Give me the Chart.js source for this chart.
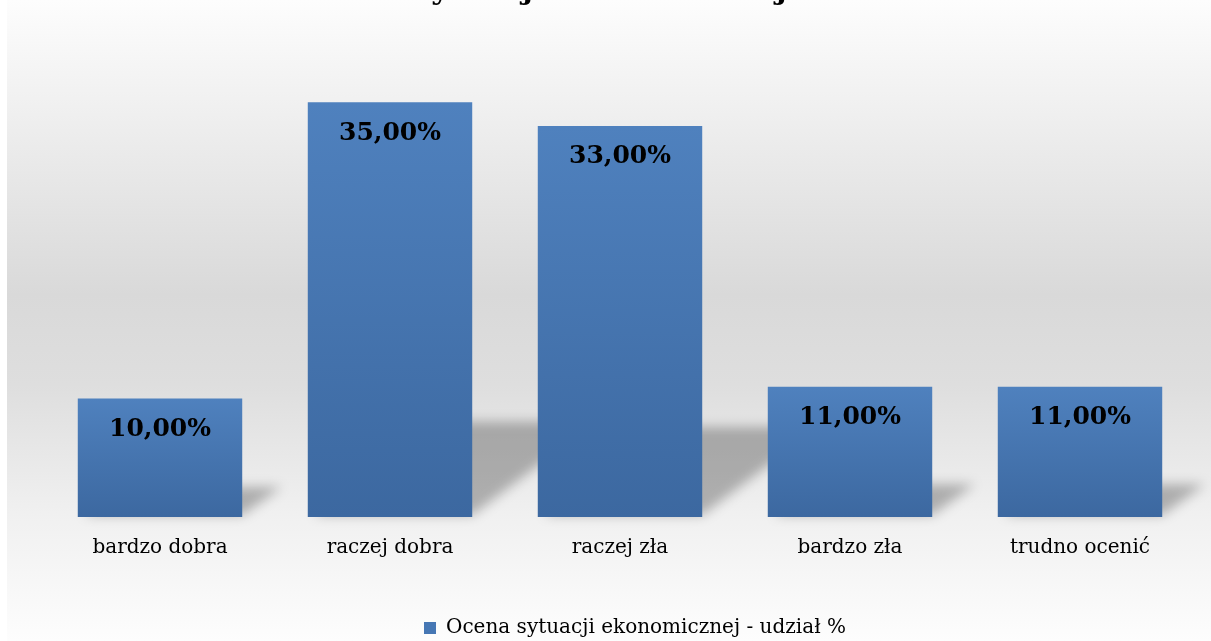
<!DOCTYPE html>
<html>
<head>
<meta charset="utf-8">
<script src="https://cdn.jsdelivr.net/npm/chart.js@4"></script>
<style>
  body { margin: 0; background: #fff; }
  #wrap { width: 1211px; height: 641px; }
</style>
</head>
<body>
<div id="wrap"><canvas id="ocenaChart" width="1211" height="641"></canvas></div>
<script>
const categories = ["bardzo dobra", "raczej dobra", "raczej zła", "bardzo zła", "trudno ocenić"];
const shares = [10, 35, 33, 11, 11]; // udział %
const seriesName = "Ocena sytuacji ekonomicznej - udział %";
const titleText = "Ocena sytuacji ekonomicznej w Polsce";

const serif = "'DejaVu Serif', 'Liberation Serif', serif";

// gradient tło wykresu
const backgroundPlugin = {
    id: "bgGradient",
    afterLayout(chart) {
        // legenda w oryginale jest lekko przesunięta w prawo
        if (chart.legend) {
            chart.legend.left += 15;
            chart.legend.right += 15;
        }
    },
    beforeDraw(chart) {
        const ctx = chart.ctx;
        const g = ctx.createLinearGradient(0, 0, 0, chart.height);
        g.addColorStop(0, "#fdfdfd");
        g.addColorStop(0.46, "#d9d9d9");
        g.addColorStop(0.6, "#dedede");
        g.addColorStop(0.8, "#f0f0f0");
        g.addColorStop(1, "#fdfdfd");
        ctx.save();
        ctx.fillStyle = g;
        ctx.fillRect(7, 0, chart.width - 7, chart.height);
        // tytuł ucięty u góry
        ctx.fillStyle = "#000";
        ctx.font = "bold 30px " + serif;
        ctx.textAlign = "center";
        ctx.textBaseline = "alphabetic";
        ctx.fillText(titleText, 620, -1);
        ctx.restore();
    }
};

// cień perspektywiczny za słupkami
const shadowPlugin = {
    id: "barShadow",
    beforeDatasetsDraw(chart) {
        const ctx = chart.ctx;
        const meta = chart.getDatasetMeta(0);
        ctx.save();
        ctx.filter = "blur(6px)";
        ctx.fillStyle = "rgba(0,0,0,0.27)";
        meta.data.forEach(bar => {
            const half = bar.width / 2;
            const left = bar.x - half + 6, right = bar.x + half;
            const h = (bar.base - bar.y) * 0.22 + 4;
            const shift = h * 1.3;
            ctx.beginPath();
            ctx.moveTo(left, bar.base - 2);
            ctx.lineTo(right, bar.base - 2);
            ctx.lineTo(right + shift, bar.base - h);
            ctx.lineTo(left + shift, bar.base - h);
            ctx.closePath();
            ctx.fill();
        });
        ctx.restore();
    }
};

// etykiety wartości
const valueLabels = {
    id: "valueLabels",
    afterDatasetsDraw(chart) {
        const ctx = chart.ctx;
        const meta = chart.getDatasetMeta(0);
        ctx.save();
        ctx.fillStyle = "#000";
        ctx.font = "bold 25px " + serif;
        ctx.textAlign = "center";
        ctx.textBaseline = "middle";
        meta.data.forEach((bar, i) => {
            const txt = shares[i].toFixed(2).replace(".", ",") + "%";
            ctx.fillText(txt, bar.x, bar.y + 31);
        });
        ctx.restore();
    }
};

function barGradient(context) {
    const chart = context.chart;
    const y = chart.scales.y;
    if (!y || context.dataIndex === undefined) return "#4a7ab5";
    const top = y.getPixelForValue(context.raw);
    const base = y.getPixelForValue(0);
    const g = chart.ctx.createLinearGradient(0, top, 0, base);
    g.addColorStop(0, "#4f81be");
    g.addColorStop(1, "#3c68a0");
    return g;
}

const ctx = document.getElementById("ocenaChart").getContext("2d");

new Chart(ctx, {
    type: "bar",
    data: {
        labels: categories,
        datasets: [{
            label: seriesName,
            data: shares,
            backgroundColor: barGradient,
            barPercentage: 0.715,
            categoryPercentage: 1
        }]
    },
    options: {
        responsive: false,
        animation: false,
        layout: {
            padding: { left: 45, right: 16, top: 43, bottom: -7 }
        },
        scales: {
            x: {
                grid: { display: false, drawTicks: false },
                border: { display: false },
                afterFit(scale) { scale.height += 34; },
                ticks: {
                    color: "#000",
                    padding: 19,
                    font: { family: serif, size: 20 }
                }
            },
            y: {
                display: false,
                min: 0,
                max: 40
            }
        },
        plugins: {
            legend: {
                position: "bottom",
                labels: {
                    color: "#000",
                    boxWidth: 12,
                    boxHeight: 12,
                    padding: 5,
                    font: { family: serif, size: 20 },
                    generateLabels(chart) {
                        return [{
                            text: seriesName,
                            fillStyle: "#4677b4",
                            strokeStyle: "#4677b4",
                            lineWidth: 0,
                            datasetIndex: 0
                        }];
                    }
                }
            },
            tooltip: { enabled: false }
        }
    },
    plugins: [backgroundPlugin, shadowPlugin, valueLabels]
});
</script>
</body>
</html>
